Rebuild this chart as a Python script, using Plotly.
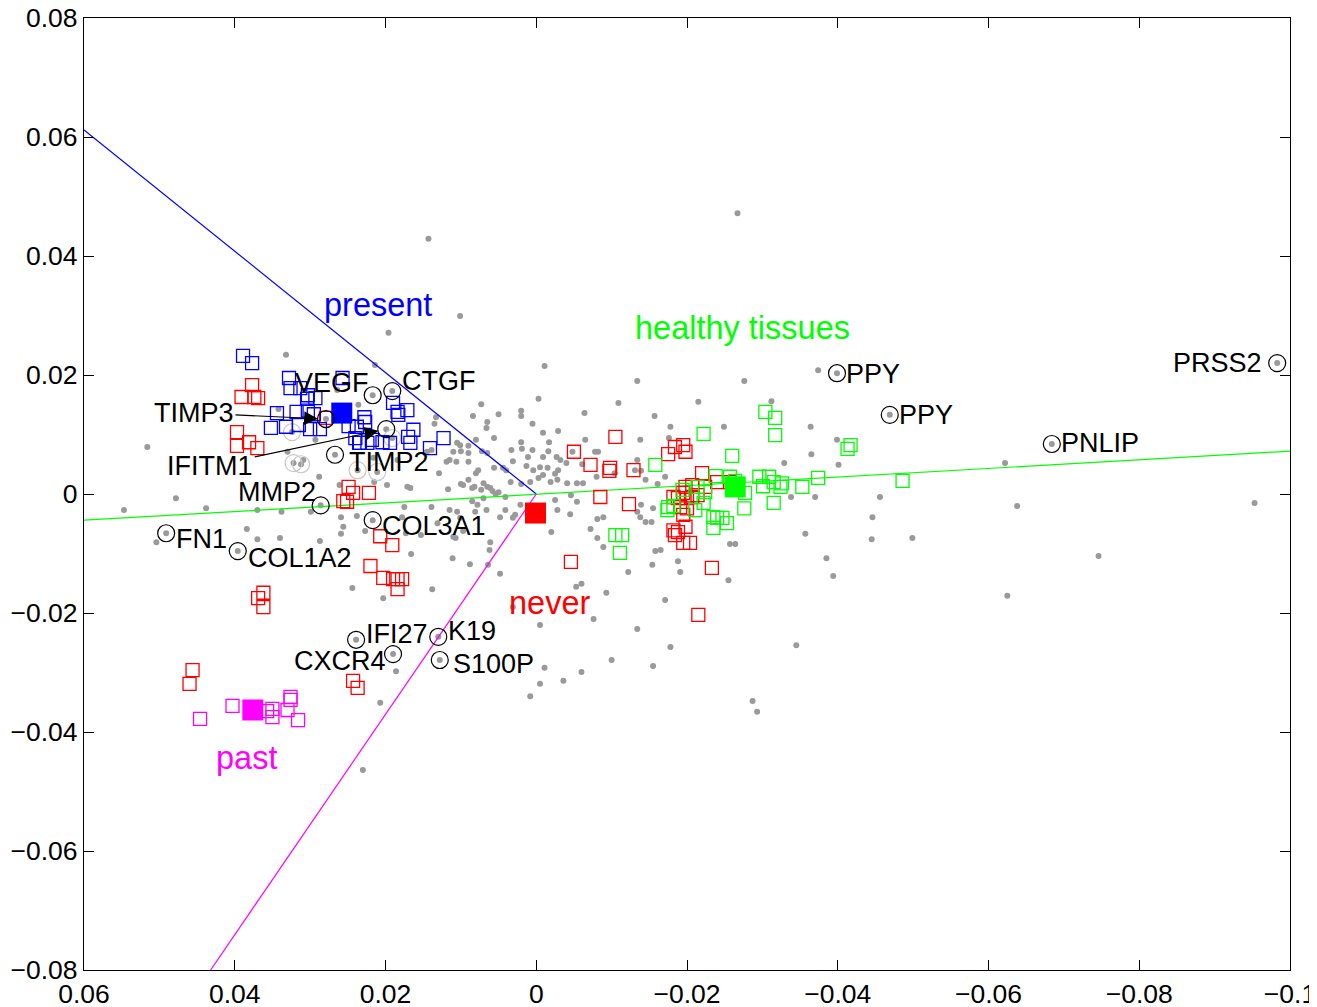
import plotly.graph_objects as go

# ---------------- data ----------------
gray_x = [-0.0267, 0.0143, 0.0101, -0.0011, -0.0134, -0.0276, -0.0374, -0.0109, -0.0215, -0.0003,
          0.0073, 0.0084, 0.0050, 0.0020, -0.0064, -0.0157, 0.0065, 0.0066, 0.0056, -0.0364,
          -0.0312, -0.0249, -0.0178, -0.0138, -0.0082, -0.0065, -0.0365, -0.0401, -0.0329, -0.0622,
          -0.0456, -0.0638, -0.0953, -0.0446, -0.0499, -0.0445, -0.0357, -0.0385, -0.0394, -0.0746,
          -0.0625, -0.0345, -0.0287, -0.0293, -0.0255, -0.0264, -0.0257, -0.0191, -0.0154, -0.0188,
          -0.0158, -0.0165, -0.0171, -0.0134, -0.0178, -0.0155, -0.0100, -0.0076, -0.0053, -0.0060,
          -0.0005, 0.0031, -0.0093, -0.0122, -0.0153, -0.0145, -0.0072, -0.0081, -0.0089, -0.0045,
          -0.0020, -0.0011, -0.0005, -0.0036, -0.0060, 0.0008, 0.0048, 0.0088, 0.0111, 0.0138,
          0.0166, 0.0061, 0.0062, 0.0107, 0.0097, 0.0115, 0.0101, 0.0167, 0.0117, 0.0090,
          0.0077, 0.0058, 0.0041, 0.0020, -0.0003, -0.0028, -0.0046, -0.0062, -0.0080, -0.0104,
          -0.0139, -0.0145, -0.0161, -0.0171, -0.0155, -0.0139, 0.0005, 0.0020, 0.0019, 0.0011,
          -0.0009, -0.0016, -0.0027, -0.0040, -0.0048, -0.0061, -0.0078, -0.0009, -0.0029, -0.0017,
          0.0005, 0.0020, 0.0100, 0.0115, 0.0106, 0.0090, 0.0080, 0.0100, 0.0082, 0.0073,
          0.0065, 0.0054, 0.0070, 0.0085, 0.0041, 0.0028, 0.0066, 0.0081, 0.0105, 0.0135,
          0.0080, 0.0090, 0.0072, 0.0056, 0.0040, 0.0031, 0.0033, 0.0013, 0.0004, -0.0015,
          -0.0025, 0.0196, 0.0332, 0.0516, 0.0478, 0.0547, 0.0384, 0.0370, 0.0504, 0.0133,
          0.0119, 0.0139, 0.0175, 0.0198, 0.0215, 0.0178, 0.0259, 0.0256, 0.0299, 0.0330,
          0.0288, 0.0261, 0.0338, 0.0129, 0.0105, 0.0139, 0.0173, 0.0153, 0.0131, 0.0259,
          0.0370, 0.0438, 0.0340, 0.0287, 0.0238, 0.0227, 0.0244, 0.0203, 0.0110, 0.0207,
          0.0186, 0.0171, 0.0214, 0.0264, 0.0236, 0.0342, 0.0293, 0.0216, 0.0184, 0.0145,
          0.0110, 0.0309, 0.0230, -0.0399, -0.0370, -0.0338, -0.0176, -0.0131, -0.0134, 0.0101,
          0.0090, 0.0065, 0.0044, 0.0070, 0.0061, 0.0050, 0.0034, 0.0085, 0.0097, 0.0078,
          0.0048, 0.0031, 0.0021, -0.0028, -0.0025, -0.0054, -0.0089, -0.0081, 0.0064, 0.0008,
          -0.0009, -0.0019, -0.0041, -0.0054, -0.0005, -0.0032, -0.0029, -0.0134, -0.0138]
gray_y = [0.0472, 0.0429, 0.0299, 0.0215, 0.0190, 0.0190, 0.0208, 0.0153, 0.0155, 0.0160,
          0.0151, 0.0131, 0.0134, 0.0140, 0.0136, 0.0131, 0.0121, 0.0111, 0.0094, 0.0113,
          0.0156, 0.0113, 0.0113, 0.0091, 0.0071, 0.0091, 0.0067, 0.0049, 0.0052, 0.0052,
          -0.0005, -0.0020, -0.0015, -0.0039, -0.0074, -0.0076, -0.0067, -0.0108, -0.0138, -0.0104,
          -0.0171, -0.0254, -0.0348, -0.0366, -0.0145, -0.0084, -0.0084, -0.0131, -0.0119, -0.0113,
          -0.0096, -0.0094, -0.0178, -0.0227, -0.0257, -0.0289, -0.0279, -0.0210, -0.0156, -0.0151,
          -0.0220, -0.0190, -0.0166, -0.0131, -0.0047, -0.0047, -0.0059, -0.0042, -0.0039, -0.0034,
          -0.0064, -0.0292, -0.0319, -0.0314, -0.0299, -0.0340, -0.0134, -0.0118, -0.0108, -0.0160,
          -0.0101, -0.0081, -0.0094, -0.0074, -0.0062, -0.0027, -0.0040, 0.0010, 0.0008, 0.0024,
          0.0040, 0.0005, -0.0005, 0.0017, 0.0027, 0.0024, -0.0002, 0.0018, 0.0029, 0.0035,
          0.0039, 0.0024, 0.0017, 0.0029, -0.0024, -0.0018, 0.0074, 0.0087, 0.0076, 0.0062,
          0.0062, 0.0072, 0.0062, 0.0052, 0.0071, 0.0050, 0.0071, 0.0103, 0.0106, 0.0087,
          0.0118, 0.0131, 0.0072, 0.0057, 0.0054, 0.0054, 0.0035, 0.0017, 0.0012, 0.0007,
          0.0012, 0.0000, -0.0007, -0.0012, -0.0027, -0.0035, -0.0027, -0.0030, -0.0030, 0.0118,
          0.0091, 0.0081, 0.0072, 0.0044, 0.0040, 0.0055, 0.0074, 0.0047, 0.0040, 0.0044,
          0.0034, 0.0271, 0.0234, 0.0079, -0.0007, -0.0027, -0.0059, -0.0076, -0.0081, 0.0129,
          0.0054, -0.0022, -0.0022, 0.0015, 0.0020, -0.0039, -0.0039, -0.0055, -0.0030, 0.0071,
          0.0029, 0.0015, -0.0030, 0.0035, 0.0086, 0.0074, -0.0066, -0.0069, -0.0049, -0.0067,
          -0.0027, -0.0024, -0.0074, -0.0079, -0.0037, -0.0062, -0.0158, -0.0175, -0.0072, -0.0351,
          -0.0298, 0.0012, 0.0217, 0.0175, 0.0150, 0.0143, 0.0091, 0.0061, 0.0057, 0.0071,
          0.0071, 0.0057, -0.0464, 0.0091, -0.0005, -0.0005, 0.0094, 0.0040, -0.0030, 0.0082,
          0.0069, 0.0069, 0.0044, 0.0018, 0.0010, 0.0003, 0.0020, 0.0010, 0.0015, -0.0018,
          -0.0039, -0.0040, -0.0018, -0.0027, -0.0010, -0.0013, -0.0089, -0.0074, -0.0119, 0.0020,
          0.0032, 0.0020, 0.0018, 0.0018, 0.0045, 0.0057, 0.0040, 0.0057, -0.0039]

present_x = [0.0389, 0.0377, 0.0328, 0.0326, 0.0313, 0.0303, 0.0293, 0.0304, 0.0344, 0.0318,
             0.0303, 0.0352, 0.0332, 0.0315, 0.0300, 0.0287, 0.0249, 0.0238, 0.0228, 0.0227,
             0.0240, 0.0234, 0.0224, 0.0218, 0.0204, 0.0194, 0.0190, 0.0184, 0.0171, 0.0183,
             0.0163, 0.0170, 0.0167, 0.0141, 0.0123, 0.0257, 0.0295, 0.0235]
present_y = [0.0232, 0.0220, 0.0195, 0.0178, 0.0178, 0.0166, 0.0161, 0.0160, 0.0136, 0.0138,
             0.0140, 0.0111, 0.0113, 0.0116, 0.0109, 0.0109, 0.0114, 0.0113, 0.0129, 0.0121,
             0.0094, 0.0086, 0.0086, 0.0091, 0.0087, 0.0086, 0.0153, 0.0138, 0.0141, 0.0133,
             0.0108, 0.0096, 0.0086, 0.0077, 0.0094, 0.0195, 0.0134, 0.0086]

never_x = [0.0377, 0.0391, 0.0374, 0.0369, 0.0397, 0.0397, 0.0381, 0.0370, 0.0279, 0.0249,
           0.0243, 0.0222, 0.0256, 0.0251, 0.0207, 0.0191, 0.0220, 0.0203, 0.0190, 0.0184,
           0.0178, 0.0184, 0.0362, 0.0369, 0.0362, 0.0456, 0.0460, 0.0243, 0.0237, -0.0050,
           -0.0072, -0.0098, -0.0097, -0.0105, -0.0129, -0.0085, -0.0123, -0.0046, -0.0175, -0.0184,
           -0.0195, -0.0198, -0.0220, -0.0198, -0.0207, -0.0195, -0.0188, -0.0200, -0.0207, -0.0214,
           -0.0182, -0.0191, -0.0200, -0.0195, -0.0182, -0.0188, -0.0198, -0.0184, -0.0195, -0.0204,
           -0.0233, -0.0215, -0.0240, -0.0257, -0.0224]
never_y = [0.0183, 0.0163, 0.0163, 0.0161, 0.0104, 0.0081, 0.0087, 0.0077, 0.0128, 0.0012,
           0.0002, 0.0002, -0.0012, -0.0013, -0.0071, -0.0086, -0.0121, -0.0141, -0.0143, -0.0143,
           -0.0143, -0.0160, -0.0166, -0.0175, -0.0190, -0.0296, -0.0319, -0.0314, -0.0326, 0.0071,
           0.0049, 0.0044, 0.0039, 0.0096, 0.0040, -0.0005, -0.0017, -0.0114, 0.0067, 0.0079,
           0.0082, 0.0071, 0.0035, 0.0012, 0.0015, 0.0002, -0.0007, -0.0007, -0.0005, -0.0002,
           -0.0005, -0.0022, -0.0024, -0.0035, -0.0061, -0.0064, -0.0055, -0.0069, -0.0082, -0.0082,
           -0.0124, -0.0203, 0.0020, 0.0020, 0.0012]

healthy_x = [-0.0304, -0.0317, -0.0317, -0.0222, -0.0260, -0.0158, -0.0417, -0.0413, -0.0238, -0.0257,
             -0.0296, -0.0309, -0.0315, -0.0326, -0.0301, -0.0324, -0.0353, -0.0374, -0.0486, -0.0277,
             -0.0315, -0.0276, -0.0214, -0.0224, -0.0222, -0.0175, -0.0174, -0.0211, -0.0235, -0.0240,
             -0.0247, -0.0253, -0.0235, -0.0105, -0.0114, -0.0111, -0.0194, -0.0264, -0.0182]
healthy_y = [0.0138, 0.0128, 0.0099, 0.0101, 0.0064, 0.0049, 0.0082, 0.0076, 0.0030, 0.0029,
             0.0029, 0.0029, 0.0020, 0.0018, 0.0013, 0.0012, 0.0012, 0.0027, 0.0022, 0.0002,
             -0.0015, -0.0024, 0.0012, 0.0003, -0.0015, -0.0022, -0.0027, -0.0027, -0.0039, -0.0040,
             -0.0040, -0.0049, -0.0057, -0.0069, -0.0069, -0.0099, 0.0007, 0.0022, -0.0020]

past_x = [0.0403, 0.0350, 0.0350, 0.0446, 0.0330, 0.0326, 0.0326, 0.0316, 0.0357]
past_y = [-0.0356, -0.0361, -0.0375, -0.0378, -0.0363, -0.0346, -0.0341, -0.0380, -0.0365]

groups = ["present", "never", "healthy tissues", "past"]
centroid_x = [0.0258, 0.0001, -0.0264, 0.0376]
centroid_y = [0.0136, -0.0032, 0.0012, -0.0363]

# projection axes through the origin (end points)
axis_present_x = [0.0, 0.06]
axis_present_y = [0.0, 0.0612]
axis_healthy_x = [0.06, -0.10]
axis_healthy_y = [-0.0044, 0.0072]
axis_past_x = [0.0, 0.0432]
axis_past_y = [0.0, -0.08]

gene_names = ["VEGF", "CTGF", "TIMP3", "IFITM1", "TIMP2", "MMP2", "COL3A1", "FN1", "COL1A2",
              "IFI27", "CXCR4", "K19", "S100P", "PPY", "PPY", "PNLIP", "PRSS2"]
gene_x = [0.0217, 0.0191, 0.0279, 0.0199, 0.0267, 0.0286, 0.0217, 0.0491, 0.0396,
          0.0239, 0.0190, 0.0130, 0.0128, -0.0399, -0.0469, -0.0684, -0.0983]
gene_y = [0.0166, 0.0173, 0.0126, 0.0109, 0.0066, -0.0019, -0.0044, -0.0066, -0.0096,
          -0.0245, -0.0269, -0.0240, -0.0279, 0.0203, 0.0133, 0.0084, 0.0220]

other_gene_x = [0.0324, 0.0322, 0.0312, 0.0237, 0.0211, 0.0191]
other_gene_y = [0.0104, 0.0052, 0.0050, 0.0040, 0.0037, 0.0094]

x_ticks = [0.06, 0.04, 0.02, 0, -0.02, -0.04, -0.06, -0.08, -0.1]
x_tick_text = ["0.06", "0.04", "0.02", "0", "\u22120.02", "\u22120.04", "\u22120.06", "\u22120.08", "\u22120.1"]
y_ticks = [0.08, 0.06, 0.04, 0.02, 0, -0.02, -0.04, -0.06, -0.08]
y_tick_text = ["0.08", "0.06", "0.04", "0.02", "0", "\u22120.02", "\u22120.04", "\u22120.06", "\u22120.08"]

# ---------------- figure ----------------
FONT = "Liberation Sans, Arial, Helvetica, sans-serif"
BLUE, RED, GREEN, MAGENTA = "#0000ff", "#ff0000", "#00ff00", "#ff00ff"

fig = go.Figure()

fig.add_trace(go.Scatter(x=gray_x + gene_x + other_gene_x, y=gray_y + gene_y + other_gene_y,
                         mode="markers", marker=dict(size=6, color="#9a9a9a"),
                         hoverinfo="skip", showlegend=False))

for lx, ly, col in [(axis_present_x, axis_present_y, BLUE),
                    (axis_healthy_x, axis_healthy_y, GREEN),
                    (axis_past_x, axis_past_y, MAGENTA)]:
    fig.add_trace(go.Scatter(x=lx, y=ly, mode="lines", line=dict(color=col, width=1.2),
                             hoverinfo="skip", showlegend=False))

fig.add_trace(go.Scatter(x=other_gene_x, y=other_gene_y, mode="markers",
                         marker=dict(symbol="circle-open", size=17, color="#c8c8c8",
                                     line=dict(width=1.2)),
                         showlegend=False, hoverinfo="skip"))

for sx, sy, col in [(never_x, never_y, RED), (present_x, present_y, BLUE),
                    (healthy_x, healthy_y, GREEN), (past_x, past_y, MAGENTA)]:
    fig.add_trace(go.Scatter(x=sx, y=sy, mode="markers",
                             marker=dict(symbol="square-open", size=13, color=col,
                                         line=dict(width=1.3)),
                             showlegend=False))

fig.add_trace(go.Scatter(x=centroid_x, y=centroid_y, mode="markers", text=groups,
                         marker=dict(symbol="square", size=21,
                                     color=[BLUE, RED, GREEN, MAGENTA]),
                         showlegend=False))

fig.add_trace(go.Scatter(x=gene_x, y=gene_y, mode="markers", text=gene_names,
                         marker=dict(symbol="circle-open", size=17, color="black",
                                     line=dict(width=1.2)),
                         showlegend=False))

# gene label placement (side, xshift, yshift)
label_place = {
    0: ("right", -2, 12), 1: ("left", 8, 10), 4: ("left", 12, -7), 5: ("right", -3, 13),
    6: ("left", 7, -6), 7: ("left", 8, -6), 8: ("left", 8, -7), 9: ("left", 8, 6),
    10: ("right", -5, -7), 11: ("left", 8, 6), 12: ("left", 11, -4), 13: ("left", 7, -1),
    14: ("left", 7, 0), 15: ("left", 7, 1), 16: ("right", -13, 0),
}
GENE_FONT = dict(family=FONT, size=27, color="black")
annotations = []
for i, name in enumerate(gene_names):
    if i in label_place:
        side, xs, ys = label_place[i]
        annotations.append(dict(x=gene_x[i], y=gene_y[i], text=name, showarrow=False,
                                xanchor=side, yanchor="middle", xshift=xs, yshift=ys,
                                font=GENE_FONT))
# arrowed labels
annotations.append(dict(x=gene_x[2], y=gene_y[2], text="TIMP3", showarrow=True, ax=-132, ay=-6,
                        arrowhead=2, arrowsize=2.3, arrowwidth=1.2, arrowcolor="black", standoff=8,
                        font=GENE_FONT))
annotations.append(dict(x=gene_x[3], y=gene_y[3], text="IFITM1", showarrow=True, ax=-176, ay=37,
                        arrowhead=2, arrowsize=2.3, arrowwidth=1.2, arrowcolor="black", standoff=8,
                        font=GENE_FONT))

for txt, gx, gy, col in [("present", 0.0210, 0.0318, BLUE),
                         ("healthy tissues", -0.0273, 0.0279, GREEN),
                         ("never", -0.0017, -0.0183, RED),
                         ("past", 0.0384, -0.0444, MAGENTA)]:
    annotations.append(dict(x=gx, y=gy, text=txt, showarrow=False, xanchor="center",
                            yanchor="middle", font=dict(family=FONT, size=32.5, color=col)))

axis_common = dict(showline=True, mirror="ticks", linecolor="black", linewidth=1.2,
                   ticks="inside", ticklen=10, tickwidth=1.2, tickcolor="black",
                   showgrid=False, zeroline=False, ticklabeloverflow="allow",
                   tickfont=dict(family=FONT, size=26.5, color="black"))

# the page body adds an 8 px offset; size/margins compensate for it
fig.update_layout(
    width=1309, height=999,
    margin=dict(l=76, r=27, t=10, b=37, autoexpand=False),
    paper_bgcolor="white", plot_bgcolor="white",
    xaxis=dict(range=[0.06, -0.1], tickvals=x_ticks, ticktext=x_tick_text, **axis_common),
    yaxis=dict(range=[-0.08, 0.08], tickvals=y_ticks, ticktext=y_tick_text, **axis_common),
    annotations=annotations,
    showlegend=False,
)

fig.write_html("out.html")
